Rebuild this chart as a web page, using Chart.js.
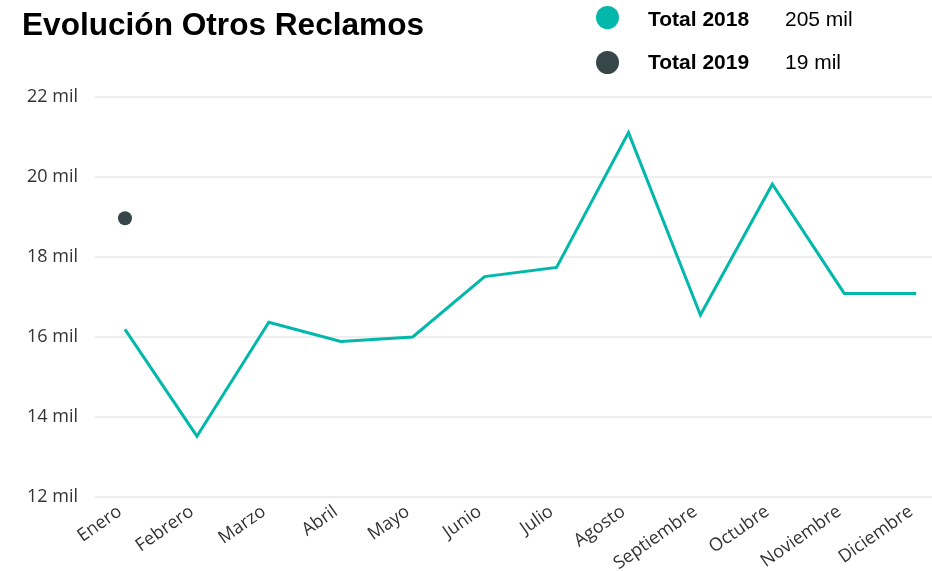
<!DOCTYPE html>
<html lang="es">
<head>
<meta charset="utf-8">
<title>Evolución Otros Reclamos</title>
<script src="https://cdn.jsdelivr.net/npm/chart.js@4/dist/chart.umd.min.js"></script>
<style>
    html, body { margin: 0; padding: 0; background: #fff; }
    #wrap { position: relative; width: 932px; height: 571px; overflow: hidden; }
    #chart { position: absolute; left: 0; top: 0; }
    .title {
        position: absolute; left: 22px; top: 4px;
        font: bold 31.6px "Liberation Sans", Arial, sans-serif; color: #000;
        line-height: 40px; margin: 0;
    }
    .leg-row { position: absolute; left: 596px; height: 24px; font-family: "Liberation Sans", Arial, sans-serif; font-size: 21px; color: #000; }
    .leg-dot { position: absolute; left: 0; top: 0; width: 23px; height: 23px; border-radius: 50%; }
    .leg-name { position: absolute; left: 52px; top: -1px; font-weight: bold; white-space: nowrap; }
    .leg-val { position: absolute; left: 189px; top: -1px; white-space: nowrap; }
    .row1 .leg-name, .row1 .leg-val { top: 1px; }
</style>
</head>
<body>
<div id="wrap">
    <canvas id="chart" width="932" height="571"></canvas>
    <h1 class="title">Evolución Otros Reclamos</h1>
    <div class="leg-row row1" style="top:6px;">
        <div class="leg-dot" style="background:#01B8AA;"></div>
        <span class="leg-name">Total 2018</span>
        <span class="leg-val" id="val2018"></span>
    </div>
    <div class="leg-row" style="top:51px;">
        <div class="leg-dot" style="background:#374649;"></div>
        <span class="leg-name">Total 2019</span>
        <span class="leg-val" id="val2019"></span>
    </div>
</div>
<script>
// monthly values, in thousands ("mil")
const months = ["Enero", "Febrero", "Marzo", "Abril", "Mayo", "Junio", "Julio",
    "Agosto", "Septiembre", "Octubre", "Noviembre", "Diciembre"];
const total2018 = [16.19, 13.52, 16.37, 15.89, 16.0, 17.51, 17.74, 21.11, 16.55, 19.82, 17.09, 17.09];
const total2019 = [18.97];
const yTicks = [12, 14, 16, 18, 20, 22];

const TEAL = "#01B8AA";
const DARK = "#374649";
const TICK_FONT = { family: "'Open Sans', 'Noto Sans', sans-serif", size: 18 };

function toPoints(values) {
    return values.map((v, i) => ({ x: i, y: v }));
}

function sumLabel(values) {
    const total = values.reduce((a, b) => a + b, 0);
    return Math.round(total) + " mil";
}

document.getElementById("val2018").innerText = sumLabel(total2018);
document.getElementById("val2019").innerText = sumLabel(total2019);

const ctx = document.getElementById("chart").getContext("2d");

new Chart(ctx, {
    type: "line",
    data: {
        datasets: [
            {
                label: "Total 2018",
                data: toPoints(total2018),
                borderColor: TEAL,
                backgroundColor: TEAL,
                borderWidth: 3,
                pointRadius: 0,
                tension: 0,
                fill: false
            },
            {
                label: "Total 2019",
                data: toPoints(total2019),
                borderColor: DARK,
                backgroundColor: DARK,
                showLine: false,
                pointRadius: 7,
                pointBorderWidth: 0
            }
        ]
    },
    options: {
        responsive: false,
        animation: false,
        layout: {
            autoPadding: false,
            padding: { top: 97, right: 0, bottom: 0, left: 0 }
        },
        plugins: {
            legend: { display: false },
            title: { display: false },
            tooltip: { enabled: false }
        },
        scales: {
            x: {
                type: "linear",
                min: -0.417,
                max: 11.22,
                grid: { display: false },
                border: { display: false },
                afterBuildTicks: (scale) => {
                    scale.ticks = months.map((m, i) => ({ value: i }));
                },
                afterFit: (scale) => {
                    scale.height = 74;
                    // keep the rotated labels from pulling the plot edges in
                    scale.paddingLeft = 0;
                    scale.paddingRight = 0;
                },
                ticks: {
                    autoSkip: false,
                    minRotation: 35,
                    maxRotation: 35,
                    padding: -4,
                    labelOffset: -5,
                    color: "#333",
                    font: TICK_FONT,
                    callback: (v) => months[v]
                }
            },
            y: {
                min: 12,
                max: 22,
                grid: { color: "#eeeeee", lineWidth: 2, drawTicks: false },
                border: { display: false },
                afterBuildTicks: (scale) => {
                    scale.ticks = yTicks.map(v => ({ value: v }));
                },
                afterFit: (scale) => { scale.width = 95; },
                ticks: {
                    padding: 17,
                    color: "#333",
                    font: TICK_FONT,
                    callback: (v) => v + " mil"
                }
            }
        }
    }
});
</script>
</body>
</html>
